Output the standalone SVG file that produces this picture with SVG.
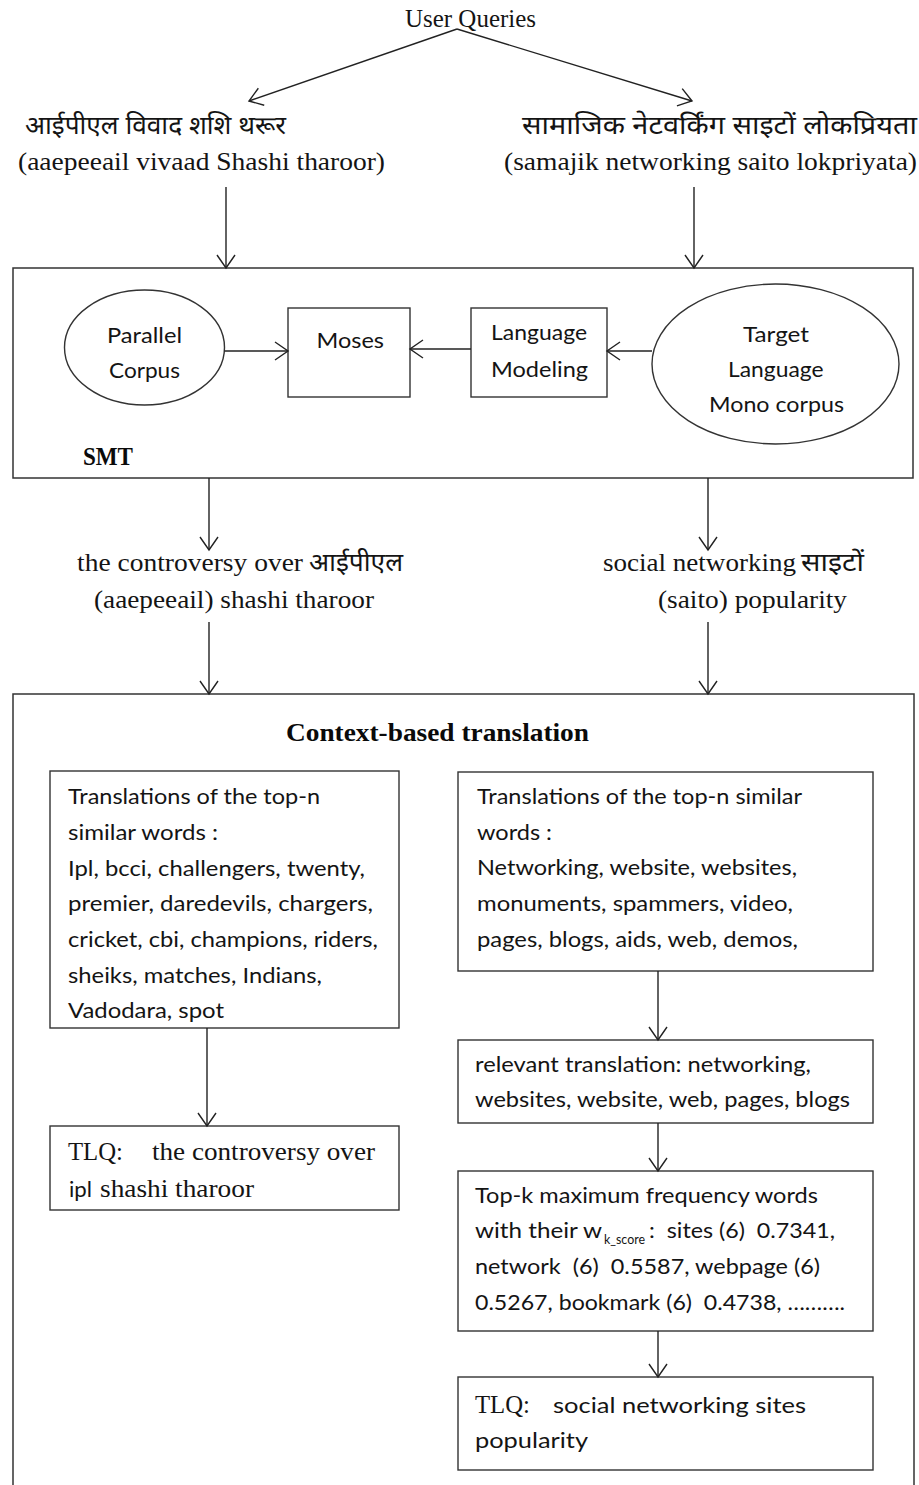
<svg xmlns="http://www.w3.org/2000/svg" width="919" height="1485" viewBox="0 0 919 1485">
  <defs>
    <style>
      .cal { font-family: Lato, "Liberation Sans", sans-serif; font-size: 22px; fill: #141414; white-space: pre; }
      .tim { font-family: "Liberation Serif", serif; font-size: 25px; fill: #141414; }
      .timb { font-family: "Liberation Serif", serif; font-size: 25px; font-weight: bold; fill: #0a0a0a; }
      .dev { font-family: "Noto Sans Devanagari", "Noto Serif Devanagari", "Lohit Devanagari", "Noto Sans", sans-serif; font-size: 25px; fill: #141414; }
      .box { fill: #ffffff; stroke: #333333; stroke-width: 1.4; }
      .outer { fill: none; stroke: #333333; stroke-width: 1.5; }
      .conn line { stroke: #222222; stroke-width: 1.4; fill: none; marker-end: url(#arr); }
    </style>
    <marker id="arr" markerUnits="userSpaceOnUse" markerWidth="20" markerHeight="20" refX="14" refY="10" orient="auto">
      <path d="M1,1 L14,10 L1,19" fill="none" stroke="#222222" stroke-width="1.4"/>
    </marker>
  </defs>

  <rect width="919" height="1485" fill="#ffffff"/>

  <!-- containers -->
  <g id="smt">
    <rect class="outer" x="13" y="268" width="900" height="210"/>
    <text class="timb" x="83" y="465" font-size="22" textLength="50" lengthAdjust="spacingAndGlyphs">SMT</text>
  </g>
  <g id="context-based">
    <rect class="outer" x="13" y="694" width="901" height="810"/>
    <text class="timb" x="286" y="741" textLength="303" lengthAdjust="spacingAndGlyphs">Context-based translation</text>
  </g>

  <!-- queries -->
  <g id="user-queries">
    <text class="tim" x="405" y="27" font-size="23" textLength="131" lengthAdjust="spacingAndGlyphs">User Queries</text>
  </g>
  <g id="query-hi-1">
    <text class="dev" x="25" y="134" textLength="261" lengthAdjust="spacingAndGlyphs">आईपीएल विवाद शशि थरूर</text>
    <text class="tim" x="18" y="170" textLength="367" lengthAdjust="spacingAndGlyphs">(aaepeeail vivaad Shashi tharoor)</text>
  </g>
  <g id="query-hi-2">
    <text class="dev" x="522" y="134" textLength="395" lengthAdjust="spacingAndGlyphs">सामाजिक नेटवर्किंग साइटों लोकप्रियता</text>
    <text class="tim" x="504" y="170" textLength="413" lengthAdjust="spacingAndGlyphs">(samajik networking saito lokpriyata)</text>
  </g>

  <!-- SMT components -->
  <g id="parallel-corpus">
    <ellipse class="box" cx="144.5" cy="347.5" rx="80" ry="57.5"/>
    <text class="cal" x="107" y="343" textLength="75" lengthAdjust="spacingAndGlyphs">Parallel</text>
    <text class="cal" x="109" y="378" textLength="71" lengthAdjust="spacingAndGlyphs">Corpus</text>
  </g>
  <g id="moses">
    <rect class="box" x="288" y="308" width="122" height="89"/>
    <text class="cal" x="316.5" y="348" textLength="67.5" lengthAdjust="spacingAndGlyphs">Moses</text>
  </g>
  <g id="language-modeling">
    <rect class="box" x="471" y="308" width="136" height="89"/>
    <text class="cal" x="491" y="340" textLength="96" lengthAdjust="spacingAndGlyphs">Language</text>
    <text class="cal" x="491" y="377" textLength="97" lengthAdjust="spacingAndGlyphs">Modeling</text>
  </g>
  <g id="target-corpus">
    <ellipse class="box" cx="775.5" cy="364" rx="123.5" ry="80"/>
    <text class="cal" x="743" y="342" textLength="66" lengthAdjust="spacingAndGlyphs">Target</text>
    <text class="cal" x="728" y="377" textLength="95.5" lengthAdjust="spacingAndGlyphs">Language</text>
    <text class="cal" x="709" y="412" textLength="135" lengthAdjust="spacingAndGlyphs">Mono corpus</text>
  </g>

  <!-- SMT outputs -->
  <g id="smt-out-1">
    <text class="tim" x="77" y="571" textLength="226" lengthAdjust="spacingAndGlyphs">the controversy over</text>
    <text class="dev" x="309" y="571" textLength="94" lengthAdjust="spacingAndGlyphs">आईपीएल</text>
    <text class="tim" x="94" y="608" textLength="280" lengthAdjust="spacingAndGlyphs">(aaepeeail) shashi tharoor</text>
  </g>
  <g id="smt-out-2">
    <text class="tim" x="603" y="571" textLength="193" lengthAdjust="spacingAndGlyphs">social networking</text>
    <text class="dev" x="801" y="571" textLength="63" lengthAdjust="spacingAndGlyphs">साइटों</text>
    <text class="tim" x="658" y="608" textLength="189" lengthAdjust="spacingAndGlyphs">(saito) popularity</text>
  </g>

  <!-- left branch -->
  <g id="similar-words-1">
    <rect class="box" x="50" y="771" width="349" height="257"/>
    <text class="cal" x="68" y="804" textLength="252" lengthAdjust="spacingAndGlyphs">Translations of the top-n</text>
    <text class="cal" x="68" y="840" textLength="150" lengthAdjust="spacingAndGlyphs">similar words :</text>
    <text class="cal" x="68" y="876" textLength="297" lengthAdjust="spacingAndGlyphs">Ipl, bcci, challengers, twenty,</text>
    <text class="cal" x="68" y="911" textLength="305" lengthAdjust="spacingAndGlyphs">premier, daredevils, chargers,</text>
    <text class="cal" x="68" y="947" textLength="310" lengthAdjust="spacingAndGlyphs">cricket, cbi, champions, riders,</text>
    <text class="cal" x="68" y="983" textLength="254" lengthAdjust="spacingAndGlyphs">sheiks, matches, Indians,</text>
    <text class="cal" x="68" y="1018" textLength="156" lengthAdjust="spacingAndGlyphs">Vadodara, spot</text>
  </g>
  <g id="tlq-1">
    <rect class="box" x="50" y="1126" width="349" height="84"/>
    <text class="tim" x="68" y="1160" font-size="24" textLength="55" lengthAdjust="spacingAndGlyphs">TLQ:</text>
    <text class="tim" x="152" y="1160" font-size="24" textLength="223" lengthAdjust="spacingAndGlyphs">the controversy over</text>
    <text class="cal" x="69" y="1197" textLength="23" lengthAdjust="spacingAndGlyphs">ipl</text>
    <text class="tim" x="100" y="1197" textLength="154" lengthAdjust="spacingAndGlyphs">shashi tharoor</text>
  </g>

  <!-- right branch -->
  <g id="similar-words-2">
    <rect class="box" x="458" y="772" width="415" height="199"/>
    <text class="cal" x="477" y="804" textLength="325" lengthAdjust="spacingAndGlyphs">Translations of the top-n similar</text>
    <text class="cal" x="477" y="840" textLength="75" lengthAdjust="spacingAndGlyphs">words :</text>
    <text class="cal" x="477" y="875" textLength="320" lengthAdjust="spacingAndGlyphs">Networking, website, websites,</text>
    <text class="cal" x="477" y="911" textLength="316" lengthAdjust="spacingAndGlyphs">monuments, spammers, video,</text>
    <text class="cal" x="477" y="947" textLength="321" lengthAdjust="spacingAndGlyphs">pages, blogs, aids, web, demos,</text>
  </g>
  <g id="relevant-translation">
    <rect class="box" x="458" y="1040" width="415" height="83"/>
    <text class="cal" x="475" y="1072" textLength="336" lengthAdjust="spacingAndGlyphs">relevant translation: networking,</text>
    <text class="cal" x="475" y="1107" textLength="375" lengthAdjust="spacingAndGlyphs">websites, website, web, pages, blogs</text>
  </g>
  <g id="top-k-words">
    <rect class="box" x="458" y="1171" width="415" height="160"/>
    <text class="cal" x="475" y="1203" textLength="343" lengthAdjust="spacingAndGlyphs">Top-k maximum frequency words</text>
    <text class="cal" x="475" y="1238"><tspan textLength="127" lengthAdjust="spacingAndGlyphs">with their w</tspan><tspan x="604" dy="6" font-size="13" textLength="41" lengthAdjust="spacingAndGlyphs">k_score</tspan><tspan x="649" dy="-6" textLength="186" lengthAdjust="spacingAndGlyphs">:  sites (6)  0.7341,</tspan></text>
    <text class="cal" x="475" y="1274" textLength="345" lengthAdjust="spacingAndGlyphs">network  (6)  0.5587, webpage (6)</text>
    <text class="cal" x="475" y="1310" textLength="370" lengthAdjust="spacingAndGlyphs">0.5267, bookmark (6)  0.4738, ……….</text>
  </g>
  <g id="tlq-2">
    <rect class="box" x="458" y="1377" width="415" height="93"/>
    <text class="tim" x="475" y="1413" font-size="24" textLength="55" lengthAdjust="spacingAndGlyphs">TLQ:</text>
    <text class="cal" x="553" y="1413" textLength="253" lengthAdjust="spacingAndGlyphs">social networking sites</text>
    <text class="cal" x="475" y="1448" textLength="113" lengthAdjust="spacingAndGlyphs">popularity</text>
  </g>

  <!-- connectors -->
  <g class="conn" id="connectors">
    <line x1="457" y1="29" x2="249" y2="101"/>
    <line x1="457" y1="29" x2="692" y2="101"/>
    <line x1="226" y1="187" x2="226" y2="268"/>
    <line x1="694" y1="187" x2="694" y2="268"/>
    <line x1="224.5" y1="351" x2="288" y2="351"/>
    <line x1="471" y1="349" x2="410" y2="349"/>
    <line x1="652" y1="351" x2="607" y2="351"/>
    <line x1="209" y1="478" x2="209" y2="550"/>
    <line x1="708" y1="478" x2="708" y2="550"/>
    <line x1="209" y1="622" x2="209" y2="694"/>
    <line x1="708" y1="622" x2="708" y2="694"/>
    <line x1="207" y1="1028" x2="207" y2="1126"/>
    <line x1="658" y1="971" x2="658" y2="1040"/>
    <line x1="658" y1="1123" x2="658" y2="1171"/>
    <line x1="658" y1="1331" x2="658" y2="1377"/>
  </g>
</svg>
